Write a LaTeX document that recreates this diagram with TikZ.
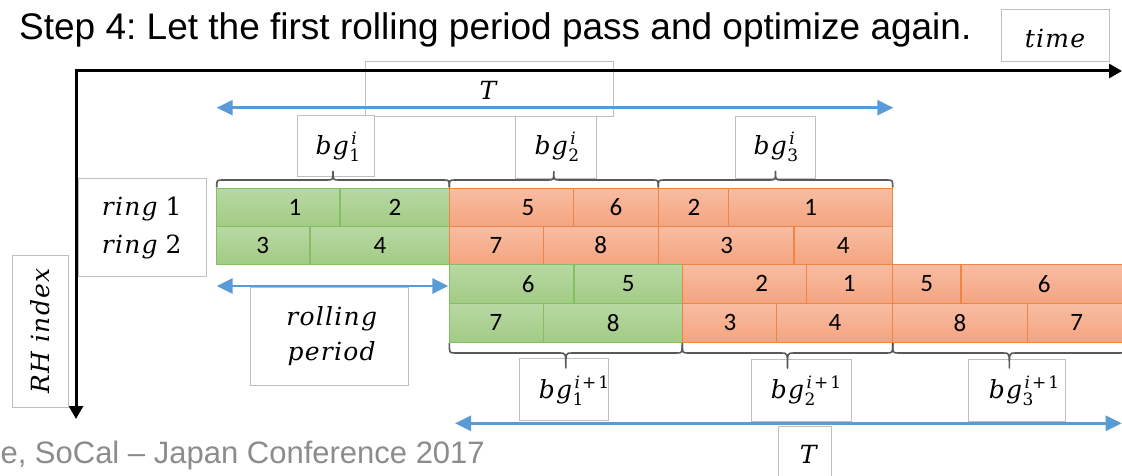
\documentclass[tikz,border=0pt]{standalone}
\usepackage{fontspec}
\setmainfont{Liberation Sans}
\newfontfamily\cellfont{Carlito}
\newfontfamily\lblfont[LetterSpace=5]{DejaVu Serif}
\newfontfamily\scrfont{DejaVu Serif}
\usetikzlibrary{arrows.meta}
\frenchspacing
\definecolor{boxgray}{HTML}{BFBFBF}
\definecolor{spanblue}{HTML}{5B9BD5}
\definecolor{gtop}{HTML}{B8D9A3}
\definecolor{gbot}{HTML}{A2CB85}
\definecolor{gline}{HTML}{86BE63}
\definecolor{otop}{HTML}{F8BDA3}
\definecolor{obot}{HTML}{F4A47F}
\definecolor{oline}{HTML}{EE8540}
\definecolor{bracegray}{HTML}{595959}
\definecolor{footgray}{HTML}{8C8C8C}

% italic label text and the block-group symbols (index below, iteration above)
\newcommand\lbl[1]{{\lblfont\itshape #1}}
\newcommand\scr[1]{\mbox{\scrfont\fontsize{17}{17}\selectfont #1}}
\newcommand\bgsym[2]{\lbl{bg}\kern0.5pt\ooalign{\kern2pt\raisebox{10pt}{\scr{#2}}\cr\raisebox{-7pt}{\scr{#1}}\cr}}
\newcommand\iter{{\itshape i}}
\newcommand\iternext{{\itshape i}\hspace{2pt}+\hspace{2pt}1}

% one shaded cell of a block, with its number
\newcommand\cellbox[8]{%
  \path[#1] (#2,#4) rectangle (#3,#5);
  \node[num] (#8) at (#6,{(#4+#5)/2}) {#7};}

% curly brace from x #1 to x #2 on line #3; #4 = offset of its back, #5 = offset of its tip
\newcommand\gbrace[5]{%
  \draw[bracestyle] (#1,#3) .. controls (#1,{#3+#4}) .. ({#1+6},{#3+#4})
    -- ({(#1+#2)/2-6},{#3+#4}) .. controls ({(#1+#2)/2},{#3+#4}) .. ({(#1+#2)/2},{#3+#5})
    .. controls ({(#1+#2)/2},{#3+#4}) .. ({(#1+#2)/2+6},{#3+#4})
    -- ({#2-6},{#3+#4}) .. controls (#2,{#3+#4}) .. (#2,#3);}

\begin{document}
\begin{tikzpicture}[x=1pt,y=-1pt,
  lbox/.style={draw=boxgray, fill=white, line width=1pt, inner sep=0pt},
  gcell/.style={top color=gtop, bottom color=gbot, draw=gline, line width=1.3pt},
  ocell/.style={top color=otop, bottom color=obot, draw=oline, line width=1.3pt},
  num/.style={font=\cellfont\fontsize{25}{25}\selectfont, inner sep=0pt},
  mlabel/.style={font=\fontsize{25}{29}\selectfont, inner sep=0pt, anchor=base},
  mainaxis/.style={line width=3pt, {Triangle[length=13pt,width=14pt]}-{Triangle[length=13pt,width=14pt]}},
  spanarrow/.style={draw=spanblue, line width=2.5pt, {Triangle[length=16pt,width=15pt]}-{Triangle[length=16pt,width=15pt]}},
  bracestyle/.style={draw=bracegray, line width=1.6pt, line join=round},
]
\useasboundingbox (0,0) rectangle (1122,476);
\clip (0,0) rectangle (1122,476);
\fill[white] (0,0) rectangle (1122,476);

% title and footer
\node[anchor=base west, inner sep=0pt, font=\fontsize{37}{40}\selectfont] (title) at (19,40)
  {Step 4: Let the first rolling period pass and optimize again.};
\node[anchor=base east, inner sep=0pt, text=footgray, font=\fontsize{31}{34}\selectfont] (footer) at (485,463)
  {e, SoCal – Japan Conference 2017};

% horizon label box (behind the axis and the span arrow)
\node[lbox, minimum width=248.3, minimum height=55] (ttop) at (489.2,89.2) {};

% axes
\coordinate (origin) at (76,71);
\coordinate (tend) at (1122,71);
\coordinate (iend) at (76,419);
\draw[mainaxis] (iend) -- (origin) -- (tend);

% top horizon arrow
\coordinate (tl) at (216.7,107.7);
\coordinate (tr) at (893.3,107.7);
\draw[spanarrow] (tl) -- (tr);

% label boxes
\node[lbox, minimum width=108, minimum height=52] (timebox) at (1055,36) {};
\node[lbox, minimum width=76.7, minimum height=61] (bgA1) at (335.7,146.2) {};
\node[lbox, minimum width=80.3, minimum height=61.3] (bgA2) at (555.9,147.4) {};
\node[lbox, minimum width=80, minimum height=61.6] (bgA3) at (775,147.5) {};
\node[lbox, minimum width=128.4, minimum height=98.4] (ringbox) at (142.5,227.5) {};
\node[lbox, minimum width=56, minimum height=152.3] (rhbox) at (40.3,331.2) {};
\node[lbox, minimum width=158.3, minimum height=97.7] (rollbox) at (329.2,336.2) {};
\node[lbox, minimum width=89.3, minimum height=61.7] (bgB1) at (563.7,389.2) {};
\node[lbox, minimum width=100, minimum height=61.7] (bgB2) at (801,390.2) {};
\node[lbox, minimum width=97.4, minimum height=61.7] (bgB3) at (1017,390.2) {};
\node[lbox, minimum width=53.4, minimum height=59.3] (tbot) at (805,456.4) {};

% current optimisation, rings 1 and 2
\cellbox{gcell}{216.7}{340}{188.3}{226.7}{295}{1}{a1}
\cellbox{gcell}{340}{449.3}{188.3}{226.7}{395}{2}{a2}
\cellbox{gcell}{216.7}{310}{226.7}{264.3}{262.7}{3}{a3}
\cellbox{gcell}{310}{449.3}{226.7}{264.3}{380}{4}{a4}
\cellbox{ocell}{449.3}{573.3}{188.3}{226.7}{528}{5}{b1}
\cellbox{ocell}{573.3}{658.3}{188.3}{226.7}{616}{6}{b2}
\cellbox{ocell}{449.3}{543.3}{226.7}{264.3}{496}{7}{b3}
\cellbox{ocell}{543.3}{658.3}{226.7}{264.3}{600.7}{8}{b4}
\cellbox{ocell}{658.3}{728.3}{188.3}{226.7}{694}{2}{c1}
\cellbox{ocell}{728.3}{892.7}{188.3}{226.7}{810.7}{1}{c2}
\cellbox{ocell}{658.3}{794}{226.7}{264.3}{726.7}{3}{c3}
\cellbox{ocell}{794}{892.7}{226.7}{264.3}{843.3}{4}{c4}

% next optimisation
\cellbox{gcell}{449.3}{574}{264.3}{303.3}{528.3}{6}{d1}
\cellbox{gcell}{574}{682.3}{264.3}{303.3}{628.3}{5}{d2}
\cellbox{gcell}{449.3}{543.3}{303.3}{342.3}{496}{7}{d3}
\cellbox{gcell}{543.3}{682.3}{303.3}{342.3}{613.3}{8}{d4}
\cellbox{ocell}{682.3}{806.7}{264.3}{303.3}{761.7}{2}{e1}
\cellbox{ocell}{806.7}{892.7}{264.3}{303.3}{849.3}{1}{e2}
\cellbox{ocell}{682.3}{776.7}{303.3}{342.3}{730}{3}{e3}
\cellbox{ocell}{776.7}{892.7}{303.3}{342.3}{835}{4}{e4}
\cellbox{ocell}{892.7}{961}{264.3}{303.3}{926.7}{5}{f1}
\cellbox{ocell}{961}{1126}{264.3}{303.3}{1044.3}{6}{f2}
\cellbox{ocell}{892.7}{1027.7}{303.3}{342.3}{960}{8}{f3}
\cellbox{ocell}{1027.7}{1126}{303.3}{342.3}{1076.7}{7}{f4}

% braces over and under the block groups
\gbrace{216.7}{449.3}{187.5}{-7.5}{-16}
\gbrace{449.3}{658.3}{187.5}{-7.5}{-16}
\gbrace{658.3}{892.7}{187.5}{-7.5}{-16}
\gbrace{449.3}{682.3}{343}{10}{25}
\gbrace{682.3}{892.7}{343}{10}{25}
\gbrace{892.7}{1126}{343}{10}{25}

% rolling period and next horizon arrows
\coordinate (rl) at (216.7,286);
\coordinate (rr) at (448.3,286);
\draw[spanarrow] (rl) -- (rr);
\coordinate (bl) at (455,423.3);
\coordinate (br) at (1121.7,423.3);
\draw[spanarrow] (bl) -- (br);

% labels
\node[mlabel] (ttext) at (488,100) {\lbl{T}};
\node[mlabel] (timetext) at (1055,48) {\lbl{time}};
\node[mlabel] (bgA1t) at (338,155) {\bgsym{1}{\iter}};
\node[mlabel] (bgA2t) at (557,155) {\bgsym{2}{\iter}};
\node[mlabel] (bgA3t) at (776,155) {\bgsym{3}{\iter}};
\node[mlabel] (ring1) at (141.7,215.7) {\lbl{ring}\hspace{8pt}{\scrfont 1}};
\node[mlabel] (ring2) at (141.7,253.3) {\lbl{ring}\hspace{8pt}{\scrfont 2}};
\node[mlabel] (rollt) at (331.7,325) {\lbl{rolling}};
\node[mlabel] (periodt) at (331.7,360) {\lbl{period}};
\node[inner sep=0pt, font=\fontsize{25}{29}\selectfont, rotate=90] (rhtext) at (40,331) {\lbl{RH index}};
\node[mlabel] (bgB1t) at (574,398.3) {\bgsym{1}{\iternext}};
\node[mlabel] (bgB2t) at (806,398.3) {\bgsym{2}{\iternext}};
\node[mlabel] (bgB3t) at (1024,398.3) {\bgsym{3}{\iternext}};
\node[mlabel] (tbt) at (808.3,463) {\lbl{T}};
\end{tikzpicture}
\end{document}
